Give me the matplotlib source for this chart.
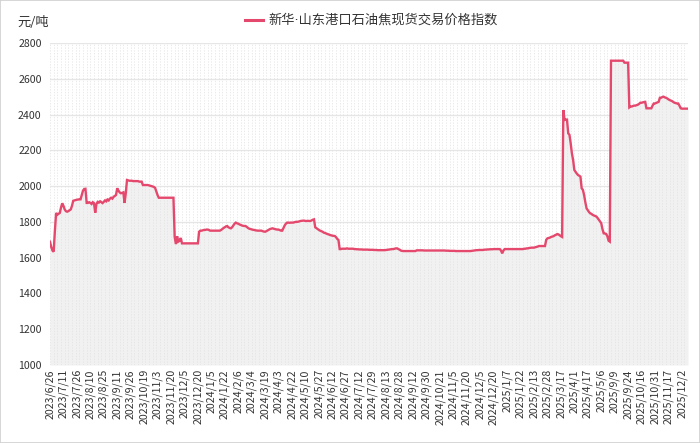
import numpy as np
import matplotlib
matplotlib.use('Agg')
import matplotlib.pyplot as plt
from matplotlib.patches import Rectangle

# ------------------------------------------------------------------------------
# data, one row per tick interval (11 trading days)

TICK_LABELS = [
    '2023/6/26', '2023/7/11', '2023/7/26', '2023/8/10', '2023/8/25', '2023/9/11',
    '2023/9/26', '2023/10/19', '2023/11/3', '2023/11/20', '2023/12/5', '2023/12/20',
    '2024/1/5', '2024/1/22', '2024/2/6', '2024/3/4', '2024/3/19', '2024/4/3',
    '2024/4/22', '2024/5/10', '2024/5/27', '2024/6/12', '2024/6/27', '2024/7/12',
    '2024/7/29', '2024/8/13', '2024/8/28', '2024/9/12', '2024/9/30', '2024/10/21',
    '2024/11/5', '2024/11/20', '2024/12/5', '2024/12/20', '2025/1/7', '2025/1/22',
    '2025/2/13', '2025/2/28', '2025/3/17', '2025/4/1', '2025/4/17', '2025/5/6',
    '2025/9/9', '2025/9/24', '2025/10/16', '2025/10/31', '2025/11/17', '2025/12/2',
]
TICK_STEP = 11

PRICE_ROWS = [
    [1689, 1660, 1640, 1633, 1750, 1850, 1840, 1845, 1850, 1880, 1904],
    [1890, 1870, 1860, 1857, 1860, 1865, 1870, 1890, 1918, 1920, 1922],
    [1924, 1925, 1926, 1926, 1950, 1975, 1984, 1985, 1906, 1906, 1910],
    [1906, 1900, 1910, 1905, 1851, 1900, 1912, 1908, 1915, 1910, 1905],
    [1912, 1920, 1915, 1925, 1920, 1930, 1935, 1930, 1940, 1945, 1950],
    [1988, 1975, 1965, 1960, 1962, 1965, 1906, 1960, 2034, 2032, 2030],
    [2030, 2030, 2028, 2028, 2028, 2028, 2028, 2025, 2025, 2025, 2006],
    [2006, 2006, 2006, 2006, 2004, 2002, 2000, 1998, 1995, 1990, 1970],
    [1950, 1935, 1935, 1935, 1935, 1935, 1935, 1935, 1935, 1935, 1935],
    [1935, 1935, 1935, 1717, 1676, 1720, 1690, 1695, 1710, 1680, 1680],
    [1680, 1680, 1680, 1680, 1680, 1680, 1680, 1680, 1680, 1680, 1680],
    [1680, 1745, 1751, 1751, 1753, 1755, 1755, 1757, 1757, 1755, 1751],
    [1751, 1751, 1751, 1751, 1751, 1751, 1751, 1751, 1755, 1760, 1766],
    [1770, 1775, 1777, 1770, 1766, 1764, 1770, 1780, 1790, 1796, 1792],
    [1790, 1786, 1783, 1780, 1778, 1777, 1777, 1772, 1766, 1762, 1760],
    [1758, 1756, 1755, 1753, 1752, 1751, 1751, 1751, 1751, 1748, 1746],
    [1745, 1748, 1752, 1756, 1760, 1762, 1764, 1762, 1760, 1758, 1757],
    [1757, 1754, 1751, 1751, 1765, 1780, 1790, 1796, 1796, 1795, 1796],
    [1796, 1796, 1798, 1800, 1800, 1801, 1803, 1805, 1806, 1807, 1807],
    [1805, 1805, 1806, 1805, 1805, 1808, 1812, 1814, 1770, 1765, 1760],
    [1755, 1751, 1748, 1745, 1740, 1738, 1735, 1732, 1730, 1727, 1725],
    [1723, 1722, 1721, 1715, 1705, 1699, 1648, 1648, 1650, 1650, 1650],
    [1650, 1652, 1650, 1650, 1650, 1650, 1650, 1648, 1648, 1647, 1647],
    [1646, 1646, 1646, 1645, 1645, 1645, 1645, 1645, 1644, 1644, 1644],
    [1644, 1643, 1643, 1643, 1642, 1642, 1642, 1642, 1642, 1642, 1642],
    [1643, 1644, 1645, 1646, 1647, 1648, 1648, 1650, 1652, 1652, 1648],
    [1645, 1640, 1638, 1637, 1637, 1637, 1637, 1637, 1637, 1637, 1637],
    [1637, 1637, 1637, 1641, 1641, 1641, 1641, 1641, 1641, 1640, 1640],
    [1640, 1640, 1640, 1640, 1640, 1640, 1640, 1640, 1640, 1640, 1640],
    [1640, 1640, 1640, 1640, 1640, 1639, 1639, 1639, 1638, 1638, 1638],
    [1638, 1638, 1637, 1637, 1637, 1637, 1637, 1637, 1637, 1637, 1637],
    [1637, 1637, 1637, 1637, 1638, 1639, 1640, 1641, 1642, 1642, 1643],
    [1643, 1643, 1643, 1644, 1645, 1645, 1646, 1646, 1647, 1647, 1647],
    [1648, 1648, 1648, 1648, 1648, 1648, 1640, 1624, 1640, 1648, 1648],
    [1648, 1648, 1648, 1648, 1648, 1648, 1648, 1648, 1648, 1648, 1648],
    [1648, 1648, 1648, 1650, 1650, 1652, 1652, 1654, 1655, 1656, 1656],
    [1656, 1658, 1660, 1662, 1665, 1665, 1665, 1665, 1665, 1665, 1700],
    [1708, 1710, 1712, 1716, 1718, 1720, 1725, 1728, 1732, 1730, 1725],
    [1720, 1716, 2425, 2370, 2372, 2372, 2295, 2287, 2240, 2183, 2146],
    [2090, 2080, 2070, 2062, 2058, 2053, 1988, 1979, 1950, 1910, 1876],
    [1865, 1855, 1848, 1845, 1839, 1836, 1833, 1830, 1822, 1812, 1802],
    [1793, 1760, 1736, 1735, 1733, 1720, 1695, 1690, 2701, 2701, 2701],
    [2701, 2701, 2701, 2701, 2701, 2701, 2701, 2701, 2690, 2690, 2690],
    [2690, 2440, 2445, 2445, 2448, 2450, 2450, 2453, 2455, 2460, 2466],
    [2466, 2468, 2470, 2471, 2435, 2435, 2435, 2435, 2435, 2450, 2462],
    [2462, 2465, 2468, 2471, 2494, 2494, 2498, 2500, 2496, 2494, 2490],
    [2485, 2481, 2478, 2475, 2470, 2466, 2464, 2462, 2462, 2450, 2435],
    [2433, 2433, 2433, 2433, 2433, 2433],
]

SERIES_NAME = '新华·山东港口石油焦现货交易价格指数'
UNIT = '元/吨'
Y_MIN, Y_MAX, Y_STEP = 1000, 2800, 200

LINE_COLOR = '#e5486d'
TEXT_COLOR = '#333333'


def main():
    plt.rcParams['font.family'] = ['Noto Sans CJK SC', 'DejaVu Sans']

    prices = np.array([v for row in PRICE_ROWS for v in row], dtype=float)
    idx = np.arange(len(prices))

    fig = plt.figure(figsize=(7.0, 4.43), dpi=100)
    ax = fig.add_axes([50 / 700, 1 - 365 / 443, 638 / 700, 322 / 443])

    # light grey area with thin vertical dashes underneath the line
    ax.fill_between(idx, Y_MIN, prices, color='#f1f1f1', lw=0, zorder=1)
    for i in range(0, len(prices), 3):
        ax.axvline(i, color='#e2e2e2', lw=0.5, ls=(0, (2, 2)), zorder=1.5)

    ax.plot(idx, prices, color=LINE_COLOR, lw=1.7, zorder=3,
            solid_joinstyle='miter')

    ax.set_xlim(0, len(prices) - 1)
    ax.set_ylim(Y_MIN, Y_MAX)
    ax.set_yticks(np.arange(Y_MIN, Y_MAX + 1, Y_STEP))
    ax.yaxis.grid(True, color='#e6e6e6', lw=0.9, zorder=2)
    ax.set_axisbelow(True)

    ticks = np.arange(len(TICK_LABELS)) * TICK_STEP
    ax.set_xticks(ticks)
    ax.set_xticklabels(TICK_LABELS, rotation=90, fontsize=7.6, color=TEXT_COLOR)
    ax.tick_params(axis='x', length=0, pad=3)
    ax.tick_params(axis='y', length=0, pad=6, labelsize=7.6, labelcolor=TEXT_COLOR)

    for s in ax.spines.values():
        s.set_visible(False)

    # unit label and legend across the top
    fig.text(17 / 700, 1 - 22 / 443, UNIT, fontsize=9.5, color=TEXT_COLOR,
             va='center', ha='left')
    fig.add_artist(plt.Line2D([245 / 700, 263 / 700], [1 - 20 / 443, 1 - 20 / 443],
                              color=LINE_COLOR, lw=2.2))
    # DejaVu first so the middle dot stays narrow, CJK glyphs fall through
    fig.text(268 / 700, 1 - 20 / 443, SERIES_NAME, fontsize=9.5, color=TEXT_COLOR,
             va='center', ha='left', family=['DejaVu Sans', 'Noto Sans CJK SC'])

    # thin frame round the whole picture
    fig.patches.append(Rectangle((0, 0), 1, 1, transform=fig.transFigure,
                                 fill=False, edgecolor='#d0d0d0', lw=1.2))

    fig.savefig('out.png', dpi=100)


# ------------------------------------------------------------------------------
if __name__ == '__main__':
    main()
